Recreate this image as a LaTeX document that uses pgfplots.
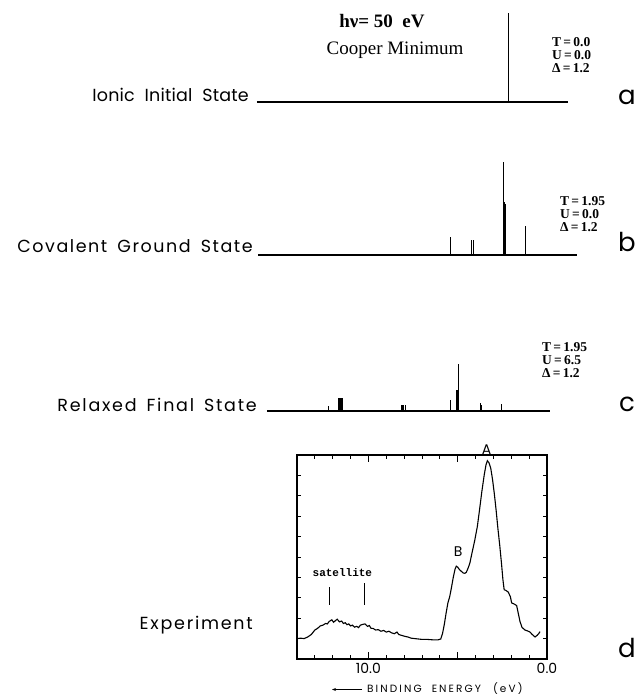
\documentclass[border=0pt]{standalone}
\usepackage{fontspec}
\usepackage{pgfplots}
\pgfplotsset{compat=1.18}
\usetikzlibrary{arrows.meta}
\setmainfont{Liberation Serif}
\newfontfamily\geo{Poppins}
\newfontfamily\mono{Liberation Mono}

% state labels: geometric sans with open tracking
\newcommand\lbl[1]{\geo\addfontfeatures{LetterSpace=#1}\fontsize{17.5}{17.5}\selectfont}
\newcommand\gap{\hspace{10pt}}
\newcommand\panel{\geo\fontsize{26}{26}\selectfont}
% parameter block: x, first baseline, T, U, Delta
\newcommand\pfont{\bfseries\fontsize{13.5}{13.5}\selectfont}
\newcommand\params[5]{%
  \node[anchor=base west, inner sep=0pt] at (#1pt,#2pt) {\pfont T\,=\,#3};
  \node[anchor=base west, inner sep=0pt] at (#1pt,#2pt-13pt) {\pfont U\,=\,#4};
  \node[anchor=base west, inner sep=0pt] at (#1pt,#2pt-26pt) {\pfont Δ\,=\,#5};
}

\pgfplotsset{
  stick/.style={scale only axis, width=339.3pt, xmin=-2, xmax=17, x dir=reverse,
    ymin=0, hide axis, clip=false, anchor=south},
  base/.style={black, line width=1.3pt},
  comb/.style={black, ycomb, no marks, line width=1pt},
}

\begin{document}
\begin{tikzpicture}
\useasboundingbox (0pt,0pt) rectangle (635pt,695pt);

% (a) ionic initial state
\begin{axis}[stick, height=95pt, ymax=95, at={(413.05pt,593pt)}]
\addplot[base] coordinates {(16.24,0) (-1.18,0)};
\addplot[comb] coordinates {(2.13,89)};
\end{axis}

% (b) covalent ground state
\begin{axis}[stick, height=100pt, ymax=100, at={(413.05pt,440pt)}]
\addplot[base] coordinates {(16.18,0) (-1.68,0)};
\addplot[comb] coordinates {(5.43,18) (4.20,15) (4.09,15) (2.46,93) (1.18,29)};
\addplot[comb, line width=1.4pt] coordinates {(2.40,53) (2.33,51)};
\end{axis}

% (c) relaxed final state
\begin{axis}[stick, height=50pt, ymax=50, at={(413.05pt,284pt)}]
\addplot[base] coordinates {(15.68,0) (-0.17,0)};
\addplot[comb] coordinates {(12.21,5) (5.38,11) (4.97,47) (3.75,8) (3.64,6) (2.52,7)};
\addplot[comb, line width=1.4pt] coordinates {(11.64,13) (11.53,13) (11.44,13)
  (8.12,6) (8.02,6) (7.92,6) (5.08,21) (5.03,21)};
\end{axis}

% (d) experiment
\begin{axis}[scale only axis, width=250pt, height=204pt,
  xmin=0, xmax=14, x dir=reverse, ymin=0, ymax=10,
  at={(422pt,36pt)}, anchor=south, clip=false,
  xtick={0,...,14}, xticklabels={0.0,,,,,,,,,,10.0,,,,},
  ytick={0,...,10}, yticklabels={},
  major tick length=4pt,
  extra x ticks={5,10}, extra x tick labels={},
  extra x tick style={major tick length=7pt},
  tick style={black, line width=0.8pt},
  axis line style={line width=1.3pt},
  xticklabel style={font=\geo\fontsize{14}{14}\selectfont, yshift=-1pt},
  /pgf/number format/assume math mode=true]
\addplot[black, line width=1.1pt] coordinates {
(14.00,1.00) (13.80,1.02) (13.60,1.00) (13.40,1.08) (13.20,1.20) (13.00,1.42)
(12.85,1.50) (12.70,1.62) (12.55,1.66) (12.40,1.74) (12.30,1.72) (12.20,1.84)
(12.05,1.92) (11.95,1.80) (11.85,1.88) (11.75,1.95) (11.62,1.82) (11.50,1.86)
(11.40,1.74) (11.30,1.78) (11.20,1.68) (11.10,1.72) (11.00,1.62) (10.90,1.66)
(10.78,1.56) (10.66,1.60) (10.55,1.54) (10.45,1.66) (10.30,1.70) (10.19,1.72)
(10.05,1.60) (9.95,1.64) (9.85,1.50) (9.74,1.50) (9.60,1.42) (9.45,1.44)
(9.30,1.36) (9.15,1.40) (9.00,1.32) (8.85,1.36) (8.70,1.28) (8.55,1.24)
(8.40,1.32) (8.30,1.20) (8.15,1.16) (8.00,1.12) (7.80,1.08) (7.60,1.02)
(7.40,1.00) (7.20,0.98) (7.00,0.96) (6.70,0.96) (6.40,0.94) (6.10,0.94)
(5.95,0.98) (5.85,1.25) (5.75,1.70) (5.65,2.25) (5.55,2.75) (5.45,3.05)
(5.35,3.50) (5.25,4.00) (5.15,4.40) (5.08,4.55) (5.00,4.50) (4.90,4.38)
(4.80,4.30) (4.70,4.22) (4.60,4.20) (4.52,4.25) (4.42,4.45) (4.32,4.70)
(4.20,5.20) (4.05,5.80) (3.90,6.50) (3.78,7.30) (3.65,8.20) (3.52,9.00)
(3.42,9.50) (3.34,9.72) (3.25,9.62) (3.15,9.35) (3.05,8.80) (2.95,8.10)
(2.85,7.30) (2.75,6.40) (2.65,5.60) (2.55,4.70) (2.47,3.90) (2.40,3.40)
(2.30,3.36) (2.17,3.28) (2.05,3.05) (1.98,2.75) (1.85,2.70) (1.70,2.62)
(1.60,2.20) (1.51,1.83) (1.40,1.55) (1.23,1.42) (1.10,1.38) (0.95,1.32)
(0.85,1.22) (0.75,1.14) (0.67,1.08) (0.55,1.16) (0.45,1.26) (0.39,1.34)
};
\addplot[black, line width=0.7pt] coordinates {(12.19,2.65) (12.19,3.54)};
\addplot[black, line width=0.7pt] coordinates {(10.23,2.65) (10.23,3.73)};
\node at (axis cs:11.46,4.25) {\mono\bfseries\fontsize{11}{11}\selectfont satellite};
\node[anchor=south, inner sep=0.5pt] at (axis cs:3.38,10) {\geo\fontsize{14}{14}\selectfont A};
\node at (axis cs:4.97,5.25) {\geo\fontsize{14}{14}\selectfont B};
\end{axis}

% headings
\node[anchor=base] at (382pt,667pt) {\bfseries\fontsize{19}{19}\selectfont hν= 50~~eV};
\node[anchor=base] at (395pt,640pt) {\fontsize{19}{19}\selectfont Cooper Minimum};

% state labels
\node[anchor=base east, inner sep=0pt] at (249pt,593pt) {\lbl{1}Ionic\gap Initial\gap State};
\node[anchor=base east, inner sep=0pt] at (253pt,442pt) {\lbl{9}Covalent\gap Ground\gap State};
\node[anchor=base east, inner sep=0pt] at (257pt,283pt) {\lbl{10}Relaxed\gap Final\gap State};
\node[anchor=base east, inner sep=0pt] at (253pt,65pt) {\lbl{10}Experiment};

% model parameters
\params{552}{648}{0.0}{0.0}{1.2}
\params{560}{489}{1.95}{0.0}{1.2}
\params{542}{343}{1.95}{6.5}{1.2}

% panel letters
\node[anchor=base, inner sep=0pt] at (627pt,590pt) {\panel a};
\node[anchor=base, inner sep=0pt] at (627pt,443pt) {\panel b};
\node[anchor=base, inner sep=0pt] at (627pt,283pt) {\panel c};
\node[anchor=base, inner sep=0pt] at (627pt,37pt) {\panel d};

% energy axis caption
\draw[line width=0.8pt, -{Stealth[length=4pt]}] (362pt,5.5pt) -- (332pt,5.5pt);
\node[anchor=base west, inner sep=0pt] at (367pt,2.5pt) {\geo\addfontfeatures{LetterSpace=20}\fontsize{10.5}{10.5}\selectfont BINDING\hspace{10pt}ENERGY\hspace{12pt}(eV)};
\end{tikzpicture}
\end{document}
